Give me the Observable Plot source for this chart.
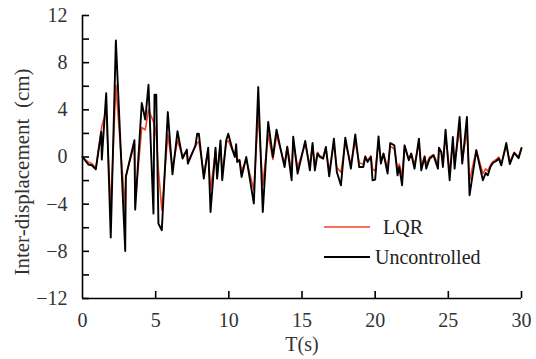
<!DOCTYPE html>
<html>
<head>
<meta charset="utf-8">
<script src="https://cdn.jsdelivr.net/npm/d3@7"></script>
<script src="https://cdn.jsdelivr.net/npm/@observablehq/plot@0.6"></script>
<style>
  html, body { margin: 0; padding: 0; background: #fff; }
  #wrap { position: relative; width: 536px; height: 359px; overflow: hidden; }
  #legend { position: absolute; left: 0; top: 0; pointer-events: none; }
</style>
</head>
<body>
<div id="wrap"></div>
<script>
const time = [0.00,0.41,0.64,0.91,1.28,1.32,1.62,1.93,2.28,2.92,2.96,3.55,3.60,4.05,4.29,4.51,4.85,4.92,5.04,5.19,5.42,5.83,6.15,6.49,6.84,7.13,7.20,7.72,7.84,7.95,8.29,8.59,8.75,9.09,9.20,9.43,9.55,9.82,9.96,10.23,10.41,10.50,10.57,10.73,10.87,11.19,11.71,12.01,12.32,12.69,13.01,13.26,13.53,13.81,13.99,14.29,14.40,14.70,15.22,15.54,15.72,15.88,16.06,16.22,16.45,16.63,16.86,17.18,17.38,17.66,17.96,18.34,18.64,18.91,19.19,19.32,19.48,19.71,19.82,20.00,20.23,20.39,20.57,20.85,21.03,21.31,21.53,21.65,21.84,22.01,22.30,22.46,22.69,22.99,23.15,23.38,23.49,23.72,23.99,24.29,24.36,24.52,24.63,24.81,25.09,25.31,25.43,25.77,25.95,26.27,26.45,26.91,27.36,27.55,27.70,27.87,28.04,28.27,28.45,28.62,28.96,29.20,29.50,29.80,30.00];
const uncontrolled = [0,-0.65,-0.70,-1.04,2.12,-0.22,5.42,-6.83,9.89,-7.97,-1.69,1.42,-4.46,4.58,3.17,6.13,-4.80,5.29,5.29,-5.65,-6.21,3.81,-1.47,2.18,-0.14,0.63,-0.56,0.99,1.98,1.98,-1.83,0.79,-4.66,0.79,-1.83,1.41,-1.97,1.41,1.98,0.71,0.00,1.08,-0.42,-0.28,-1.69,0.00,-3.95,5.93,-4.66,2.97,0.00,2.32,0.71,-0.85,0.85,-1.97,1.72,-1.41,1.36,-1.13,1.19,-1.13,0.29,0.00,-0.14,0.85,-1.64,1.56,-1.27,-2.40,1.64,-0.99,1.92,-0.85,-0.85,0.00,-0.42,0.00,-1.97,-1.92,1.75,-0.56,0.29,-1.41,1.19,0.99,-1.55,-0.85,-2.40,0.99,-0.28,0.29,-0.99,1.56,-1.13,0.00,-0.99,-0.14,0.14,-0.99,0.79,0.43,-0.85,2.32,-1.97,1.69,-0.99,3.39,-0.56,3.39,-3.25,0.57,-1.97,-1.36,-1.55,-0.85,-0.51,-0.34,-0.14,-0.71,1.19,-0.60,0.35,-0.10,0.75];
const lqr = [0,-0.45,-0.55,-0.95,2.30,2.60,3.90,-4.30,6.10,-4.60,-1.60,1.10,-3.90,2.50,2.30,4.00,3.00,2.70,1.80,-1.10,-4.50,1.90,-0.90,1.40,0.10,0.50,-0.40,0.90,1.20,1.30,-1.40,0.60,-2.80,0.50,-1.30,1.00,-1.40,1.20,1.40,0.60,0.10,0.70,-0.30,-0.20,-1.20,-0.20,-2.80,3.70,-2.40,1.90,-0.20,1.80,0.70,-0.60,0.90,-1.20,1.40,-0.90,1.10,-0.70,1.00,-0.80,0.40,0.10,0.00,0.80,-1.20,1.10,-0.90,-1.30,1.20,-0.60,1.30,-0.50,-0.60,0.10,-0.30,0.10,-1.00,-1.20,1.30,-0.30,0.30,-0.90,0.90,0.70,-1.00,-0.60,-1.60,0.90,-0.20,0.30,-0.60,1.10,-0.80,0.10,-0.60,0.00,0.20,-0.60,0.60,0.40,-0.50,1.80,-1.20,1.30,-0.50,2.30,-0.30,2.20,-2.00,0.60,-1.40,-1.00,-1.20,-0.70,-0.40,-0.20,0.00,-0.50,0.90,-0.40,0.40,0.00,0.80];

const xTicks = [0, 5, 10, 15, 20, 25, 30];
const yTicksMajor = [-12, -8, -4, 0, 4, 8, 12];
const yTicksMinor = [-12, -10, -8, -6, -4, -2, 0, 2, 4, 6, 8, 10, 12];
const seriesNames = ["LQR", "Uncontrolled"];
const seriesColors = ["#f24526", "#000000"];
const xTitle = "T(s)";
const yTitle = "Inter-displacement\u00a0 (cm)";

const rows = time.map((t, i) => ({t, u: uncontrolled[i], l: lqr[i]}));

const font = "Liberation Serif";

const chart = Plot.plot({
  width: 536,
  height: 359,
  marginLeft: 82,
  marginRight: 15,
  marginTop: 15,
  marginBottom: 61,
  style: {fontFamily: font, fontSize: "20px", color: "#222", background: "#fff"},
  x: {domain: [0, 30]},
  y: {domain: [-12, 12]},
  marks: [
    Plot.line(rows, {x: "t", y: "l", stroke: seriesColors[0], strokeWidth: 1.6}),
    Plot.line(rows, {x: "t", y: "u", stroke: seriesColors[1], strokeWidth: 1.9}),
    Plot.ruleX([0], {stroke: "#000", strokeWidth: 1.6}),
    Plot.ruleY([-12], {stroke: "#000", strokeWidth: 1.6}),
    Plot.axisY({ticks: yTicksMinor, tickSize: 7, dx: 7, tickFormat: () => "", label: null, stroke: "#000", strokeWidth: 1.6}),
    Plot.axisY({ticks: yTicksMajor, tickSize: 0, tickPadding: 15, fill: "#333", label: null}),
    Plot.axisX({ticks: xTicks.slice(1), tickSize: 7, dy: -7, tickFormat: () => "", label: null, stroke: "#000", strokeWidth: 1.6}),
    Plot.axisX({ticks: xTicks, tickSize: 0, tickPadding: 14, fill: "#333", label: null}),
    Plot.text([yTitle], {frameAnchor: "left", rotate: -90, dx: -60, dy: 15, fontSize: 21,
      textAnchor: "middle", lineAnchor: "middle", fill: "#333"}),
    Plot.text([xTitle], {frameAnchor: "bottom", dy: 46, fontSize: 20,
      textAnchor: "middle", lineAnchor: "middle", fill: "#333"})
  ]
});

const wrap = document.getElementById("wrap");
wrap.appendChild(chart);

// legend overlay
const ns = "http://www.w3.org/2000/svg";
const leg = document.createElementNS(ns, "svg");
leg.setAttribute("id", "legend");
leg.setAttribute("width", 536);
leg.setAttribute("height", 359);
leg.setAttribute("font-family", font);
const legRows = [
  {x1: 324, x2: 370, y: 227, tx: 383},
  {x1: 324, x2: 370, y: 257, tx: 375}
];
seriesNames.forEach((name, i) => {
  const r = legRows[i];
  const ln = document.createElementNS(ns, "line");
  ln.setAttribute("x1", r.x1); ln.setAttribute("x2", r.x2);
  ln.setAttribute("y1", r.y); ln.setAttribute("y2", r.y);
  ln.setAttribute("stroke", seriesColors[i]);
  ln.setAttribute("stroke-width", i === 0 ? 1.6 : 1.9);
  leg.appendChild(ln);
  const tx = document.createElementNS(ns, "text");
  tx.setAttribute("x", r.tx);
  tx.setAttribute("y", r.y);
  tx.setAttribute("dy", "0.35em");
  tx.setAttribute("font-size", "20px");
  tx.setAttribute("fill", "#222");
  tx.textContent = name;
  leg.appendChild(tx);
});
wrap.appendChild(leg);
</script>
</body>
</html>
